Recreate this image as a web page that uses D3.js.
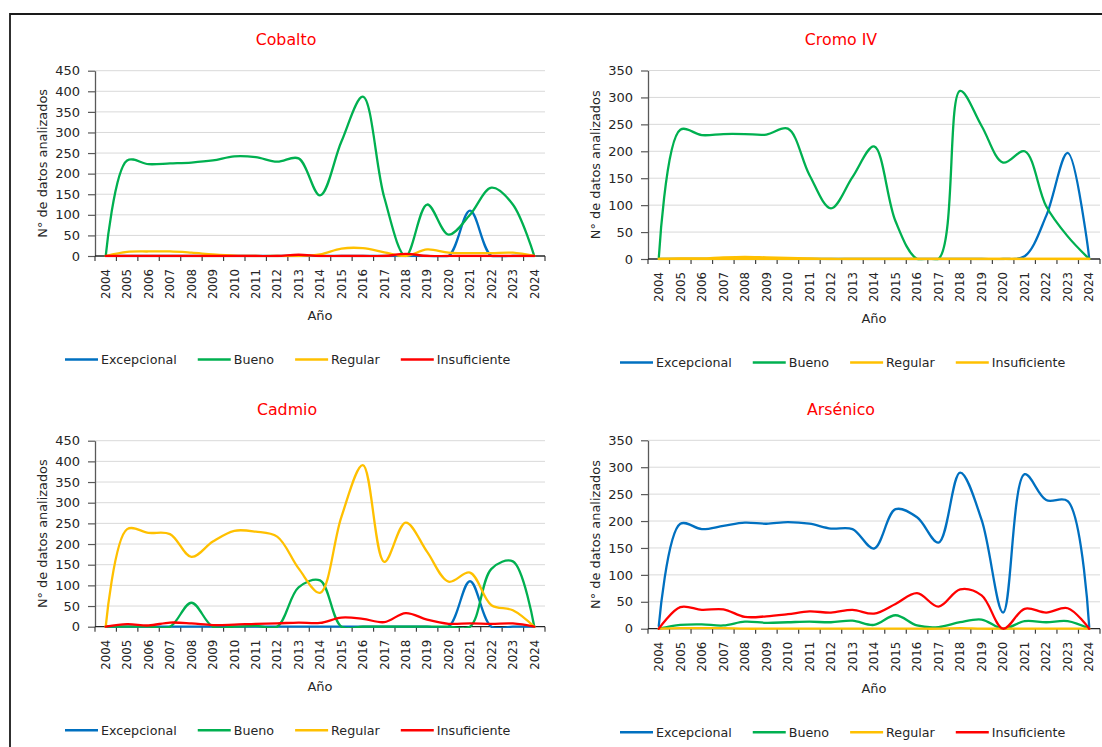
<!DOCTYPE html>
<html><head><meta charset="utf-8">
<script src="https://cdn.jsdelivr.net/npm/d3@7"></script>
<style>
body{margin:0;background:#fff}
svg{display:block}
text{font-family:"DejaVu Sans",sans-serif}
</style>
</head><body>
<svg id="chart" width="1102" height="747"></svg>
<script>
// ---------------- DATA ----------------
const years = ["2004","2005","2006","2007","2008","2009","2010","2011","2012","2013","2014",
               "2015","2016","2017","2018","2019","2020","2021","2022","2023","2024"];
const seriesNames = ["Excepcional","Bueno","Regular","Insuficiente"];
const ticks450 = [0,50,100,150,200,250,300,350,400,450];
const ticks350 = [0,50,100,150,200,250,300,350];
const xAxisTitle = "Año";
const yAxisTitle = "N° de datos analizados";

// Cobalto
const cobaltoExcepcional   = [0,0,0,0,0,0,0,0,0,0,0,0,0,0,0,0,0,110,0,0,0];
const cobaltoBueno         = [0,232,223,225,227,232,242,240,229,237,147,278,387,142,0,125,52,100,166,125,0];
const cobaltoRegular       = [0,10,11,11,8,4,1,0,0,0,4,18,19,9,0,16,8,7,7,8,0];
const cobaltoInsuficiente  = [0,0,0,0,0,0,0,0,0,3,0,0,0,0,5,0,0,0,0,0,0];
// Cromo IV
const cromoExcepcional     = [0,0,0,0,0,0,0,0,0,0,0,0,0,0,0,0,0,5,80,197,0];
const cromoBueno           = [0,240,230,232,232,231,242,156,94,152,209,70,0,0,312,247,179,200,98,42,0];
const cromoRegular         = [0,1,1,3,4,3,2,1,0,0,0,0,0,0,0,0,0,0,0,0,0];
const cromoInsuficiente    = [0,0,0,0,0,0,0,0,0,0,0,0,0,0,0,0,0,0,0,0,0];
// Cadmio
const cadmioExcepcional    = [0,0,0,0,0,0,0,0,0,0,0,0,0,0,0,0,0,110,0,0,0];
const cadmioBueno          = [0,0,0,0,58,0,0,2,0,95,112,0,0,0,0,0,0,0,140,158,0];
const cadmioRegular        = [0,236,227,224,169,206,232,230,218,141,82,266,391,157,252,181,109,131,52,40,0];
const cadmioInsuficiente   = [0,6,3,10,8,4,5,7,8,10,9,22,19,11,33,17,7,8,7,8,0];
// Arsénico
const arsenicoExcepcional  = [5,195,185,191,197,195,198,195,186,185,149,222,207,160,290,202,30,287,239,237,3];
const arsenicoBueno        = [0,7,8,6,13,11,12,13,12,15,7,25,6,3,12,17,0,14,12,14,0];
const arsenicoRegular      = [0,1,1,1,0,0,0,0,0,0,0,0,0,0,1,0,0,0,0,0,0];
const arsenicoInsuficiente = [0,40,35,36,22,23,27,32,30,35,28,46,66,41,73,62,0,37,30,38,0];

// ---------------- STYLE / LAYOUT ----------------
const BLUE="#0070C0", GREEN="#00B050", YELLOW="#FFC000", RED="#FF0000";

const panels = [
  {title:"Cobalto", values:[cobaltoExcepcional,cobaltoBueno,cobaltoRegular,cobaltoInsuficiente],
   colors:[BLUE,GREEN,YELLOW,RED], yTicks:ticks450,
   x0:95, x1:545, yTop:70.7, yBottom:256, titleX:286, titleY:45, legendX:65},
  {title:"Cromo IV", values:[cromoExcepcional,cromoBueno,cromoRegular,cromoInsuficiente],
   colors:[BLUE,GREEN,YELLOW,YELLOW], yTicks:ticks350,
   x0:648, x1:1100, yTop:70.5, yBottom:259, titleX:841, titleY:45, legendX:620},
  {title:"Cadmio", values:[cadmioExcepcional,cadmioBueno,cadmioRegular,cadmioInsuficiente],
   colors:[BLUE,GREEN,YELLOW,RED], yTicks:ticks450,
   x0:95, x1:545, yTop:440.7, yBottom:626.7, titleX:287, titleY:415, legendX:65},
  {title:"Arsénico", values:[arsenicoExcepcional,arsenicoBueno,arsenicoRegular,arsenicoInsuficiente],
   colors:[BLUE,GREEN,YELLOW,RED], yTicks:ticks350,
   x0:648, x1:1100, yTop:440.3, yBottom:628.7, titleX:841, titleY:415, legendX:620}
];

const svg = d3.select("#chart");
svg.append("rect").attr("width",1102).attr("height",747).attr("fill","#fff");

// outer frame (top and left)
svg.append("path").attr("d","M10,747 L10,14 L1102,14")
  .attr("fill","none").attr("stroke","#1a1a1a").attr("stroke-width",1.8);

panels.forEach((p,pi)=>{
  const g = svg.append("g");
  const x = d3.scaleBand().domain(years).range([p.x0,p.x1]).paddingInner(0).paddingOuter(0);
  const yMax = p.yTicks[p.yTicks.length-1];
  const y = d3.scaleLinear().domain([0,yMax]).range([p.yBottom,p.yTop]);
  const cx = d => x(d) + x.bandwidth()/2;

  // gridlines
  g.append("g").selectAll("line").data(p.yTicks.filter(t=>t>0)).join("line")
    .attr("x1",p.x0).attr("x2",p.x1).attr("y1",d=>y(d)).attr("y2",d=>y(d))
    .attr("stroke","#D9D9D9").attr("stroke-width",1);

  // y axis
  const ya = g.append("g").attr("transform",`translate(${p.x0},0)`)
    .call(d3.axisLeft(y).tickValues(p.yTicks).tickSize(7).tickPadding(8).tickSizeOuter(0));
  ya.select(".domain").attr("stroke","#595959").attr("stroke-width",1.3);
  ya.selectAll(".tick line").attr("stroke","#595959").attr("stroke-width",1.2);
  ya.selectAll("text").attr("font-family","DejaVu Sans").attr("font-size",13).attr("fill","#262626");

  // x axis labels
  const xa = g.append("g").attr("transform",`translate(0,${p.yBottom})`)
    .call(d3.axisBottom(x).tickSize(0).tickPadding(0));
  xa.select(".domain").remove();
  xa.selectAll(".tick line").remove();
  xa.selectAll("text")
    .attr("font-family","DejaVu Sans").attr("font-size",11.8).attr("fill","#262626")
    .attr("x",-13).attr("y",0).attr("dy","0.36em")
    .attr("transform","rotate(-90)").style("text-anchor","end");

  // x tick marks at category boundaries
  const bounds = years.map(d=>x(d)).concat([p.x1]);
  g.append("g").selectAll("line").data(bounds).join("line")
    .attr("x1",d=>d).attr("x2",d=>d).attr("y1",p.yBottom).attr("y2",p.yBottom+5)
    .attr("stroke","#404040").attr("stroke-width",1.2);
  // x axis line
  g.append("line").attr("x1",p.x0).attr("x2",p.x1).attr("y1",p.yBottom).attr("y2",p.yBottom)
    .attr("stroke","#262626").attr("stroke-width",1.3);

  // clip
  const clipId = "clip"+pi;
  svg.append("clipPath").attr("id",clipId).append("rect")
    .attr("x",p.x0).attr("y",p.yTop-4).attr("width",p.x1-p.x0+2).attr("height",p.yBottom-p.yTop+5.2);

  const line = d3.line().x((d,i)=>cx(years[i])).y(d=>y(d)).curve(d3.curveCatmullRom.alpha(0.5));
  const lg = g.append("g").attr("clip-path",`url(#${clipId})`);
  p.values.forEach((vals,si)=>{
    lg.append("path").datum(vals).attr("d",line)
      .attr("fill","none").attr("stroke",p.colors[si]).attr("stroke-width",2.3)
      .attr("stroke-linejoin","round").attr("stroke-linecap","round");
  });

  // title
  g.append("text").attr("x",p.titleX).attr("y",p.titleY).attr("text-anchor","middle")
    .attr("font-size",15.8).attr("fill","#FF0000").text(p.title);

  // axis titles
  g.append("text").attr("x",(p.x0+p.x1)/2).attr("y",p.yBottom+64).attr("text-anchor","middle")
    .attr("font-size",13).attr("fill","#262626").text(xAxisTitle);
  g.append("text").attr("transform",`translate(${p.x0-53},${(p.yTop+p.yBottom)/2}) rotate(-90)`)
    .attr("text-anchor","middle").attr("dy","0.36em")
    .attr("font-size",12.9).attr("fill","#262626").text(yAxisTitle);

  // legend
  const ly = p.yBottom + 103.5;
  let sx = p.legendX;
  seriesNames.forEach((name,si)=>{
    g.append("line").attr("x1",sx).attr("x2",sx+33).attr("y1",ly).attr("y2",ly)
      .attr("stroke",p.colors[si]).attr("stroke-width",2.5);
    const t = g.append("text").attr("x",sx+36).attr("y",ly).attr("dy","0.36em")
      .attr("font-size",12.7).attr("fill","#262626").text(name);
    sx = sx + 36 + t.node().getComputedTextLength() + 21;
  });
});
</script>
</body></html>
